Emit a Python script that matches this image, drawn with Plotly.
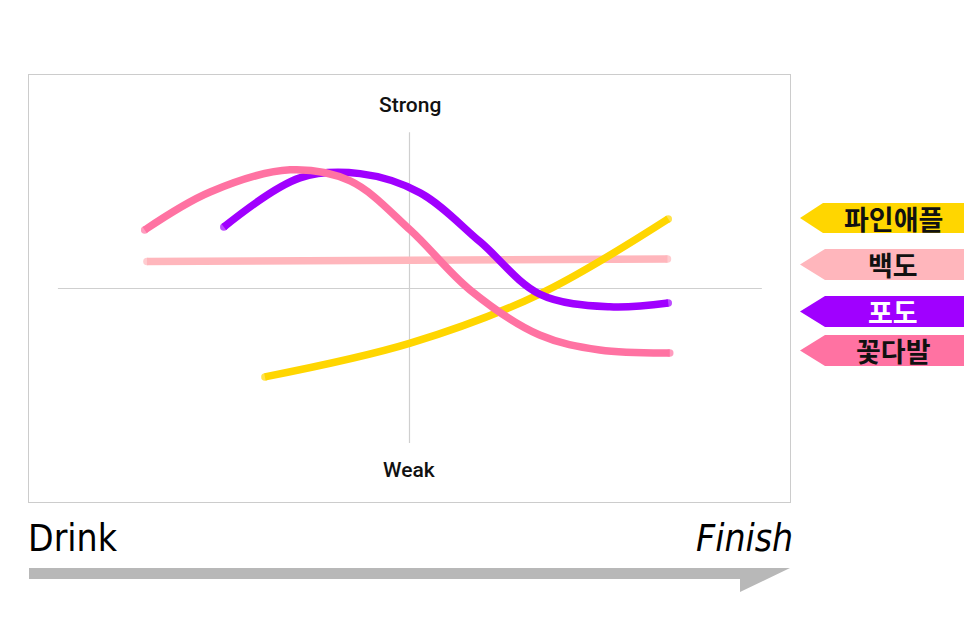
import plotly.graph_objects as go

# ---------------- data (x: Drink -> Finish, y: Weak -> Strong) ----------------
series_names = ["파인애플", "백도", "포도", "꽃다발"]
series_colors = ["#FFD600", "#FFB6BC", "#A000FF", "#FF72A2"]
text_colors = ["#111111", "#111111", "#FFFFFF", "#111111"]

pineapple_x = [-19.0, 0.1, 17.1, 34.0]
pineapple_y = [-20.7, -12.8, -1.3, 16.3]

peach_x = [-34.5, 0.1, 33.9]
peach_y = [6.3, 6.6, 6.9]

grape_x = [-24.4, -14.4, -6.5, 1.4, 9.3, 17.1, 26.3, 34.0]
grape_y = [14.4, 25.9, 26.9, 22.4, 10.9, -1.3, -4.3, -3.4]

bouquet_x = [-34.8, -26.2, -15.7, -7.8, 0.1, 8.0, 17.1, 25.0, 34.2]
bouquet_y = [13.7, 22.6, 27.8, 25.2, 13.7, -0.4, -10.9, -14.4, -15.1]

axis_top_label = "Strong"
axis_bottom_label = "Weak"
start_label = "Drink"
end_label = "Finish"

# ---------------- layout geometry ----------------
OFF = 8  # page body margin
W, H = 972 - OFF, 640 - OFF
ML, MT = 29 - OFF, 75 - OFF
MR = W - (790 - OFF)
MB = H - (502 - OFF)
PW, PH = W - ML - MR, H - MT - MB


def px(x):
    return (x - OFF - ML) / PW


def py(y):
    return (H - MB - (y - OFF)) / PH


fig = go.Figure()

series = [
    (pineapple_x, pineapple_y),
    (peach_x, peach_y),
    (grape_x, grape_y),
    (bouquet_x, bouquet_y),
]
draw_order = [1, 0, 2, 3]
for i in draw_order:
    xs, ys = series[i]
    sizes = [7.5] + [0] * (len(xs) - 2) + [7.5]
    fig.add_trace(go.Scatter(
        x=xs, y=ys, mode="lines+markers", name=series_names[i],
        line=dict(color=series_colors[i], width=7.5, shape="spline", smoothing=1.0,
                  simplify=False),
        marker=dict(size=sizes, color=series_colors[i], line=dict(width=0)),
        hoverinfo="skip", showlegend=False,
    ))

shapes = []
# crosshair
shapes.append(dict(type="line", xref="x", yref="y", x0=0, x1=0, y0=-36.2, y1=36.6,
                   line=dict(color="#CFCFCF", width=1.2), layer="below"))
shapes.append(dict(type="line", xref="x", yref="y", x0=-46.2, x1=46.3, y0=0, y1=0,
                   line=dict(color="#CFCFCF", width=1.2), layer="below"))

# bottom gray arrow
arrow = [(29, 568), (790, 568), (740, 592), (740, 579), (29, 579)]
path = "M " + " L ".join(f"{px(a):.5f},{py(b):.5f}" for a, b in arrow) + " Z"
shapes.append(dict(type="path", xref="paper", yref="paper", path=path,
                   fillcolor="#B8B8B8", line=dict(width=0)))

# legend tags
tag_rows = [(203, 233, 823), (249, 280, 825), (296, 327, 825), (335, 366, 825)]
annotations = []
for i, (top, bot, rx) in enumerate(tag_rows):
    mid = (top + bot) / 2
    pts = [(800, mid), (rx, top), (968, top), (968, bot), (rx, bot)]
    p = "M " + " L ".join(f"{px(a):.5f},{py(b):.5f}" for a, b in pts) + " Z"
    shapes.append(dict(type="path", xref="paper", yref="paper", path=p,
                       fillcolor=series_colors[i], line=dict(width=0)))
    annotations.append(dict(xref="paper", yref="paper", x=px(893), y=py(mid),
                            text=series_names[i], showarrow=False,
                            xanchor="center", yanchor="middle",
                            font=dict(family="Noto Sans CJK KR", size=27,
                                      color=text_colors[i], weight="bold")))

annotations.append(dict(xref="x", yref="y", x=0, y=43.0, text=axis_top_label,
                        showarrow=False, xanchor="center", yanchor="middle",
                        font=dict(family="Roboto", size=21, color="#111111", weight=500)))
annotations.append(dict(xref="x", yref="y", x=0, y=-42.5, text=axis_bottom_label,
                        showarrow=False, xanchor="center", yanchor="middle",
                        font=dict(family="Roboto", size=21, color="#111111", weight=500)))
annotations.append(dict(xref="paper", yref="paper", x=px(26), y=py(538), text=start_label,
                        showarrow=False, xanchor="left", yanchor="middle",
                        font=dict(family="DejaVu Sans Condensed", size=37,
                                  color="#000000")))
annotations.append(dict(xref="paper", yref="paper", x=px(795), y=py(538),
                        text=f"<i>{end_label}</i>",
                        showarrow=False, xanchor="right", yanchor="middle",
                        font=dict(family="DejaVu Sans Condensed", size=37,
                                  color="#000000")))

fig.update_layout(
    width=W, height=H,
    margin=dict(l=ML, r=MR, t=MT, b=MB, pad=0),
    paper_bgcolor="white", plot_bgcolor="white",
    xaxis=dict(range=[-50, 50], showgrid=False, zeroline=False, showticklabels=False,
               ticks="", showline=True, mirror=True, linecolor="#CCCCCC", linewidth=1.2,
               fixedrange=True),
    yaxis=dict(range=[-50, 50], showgrid=False, zeroline=False, showticklabels=False,
               ticks="", showline=True, mirror=True, linecolor="#CCCCCC", linewidth=1.2,
               fixedrange=True),
    shapes=shapes, annotations=annotations, showlegend=False,
)

fig.write_html("out.html", config={"displayModeBar": False})
